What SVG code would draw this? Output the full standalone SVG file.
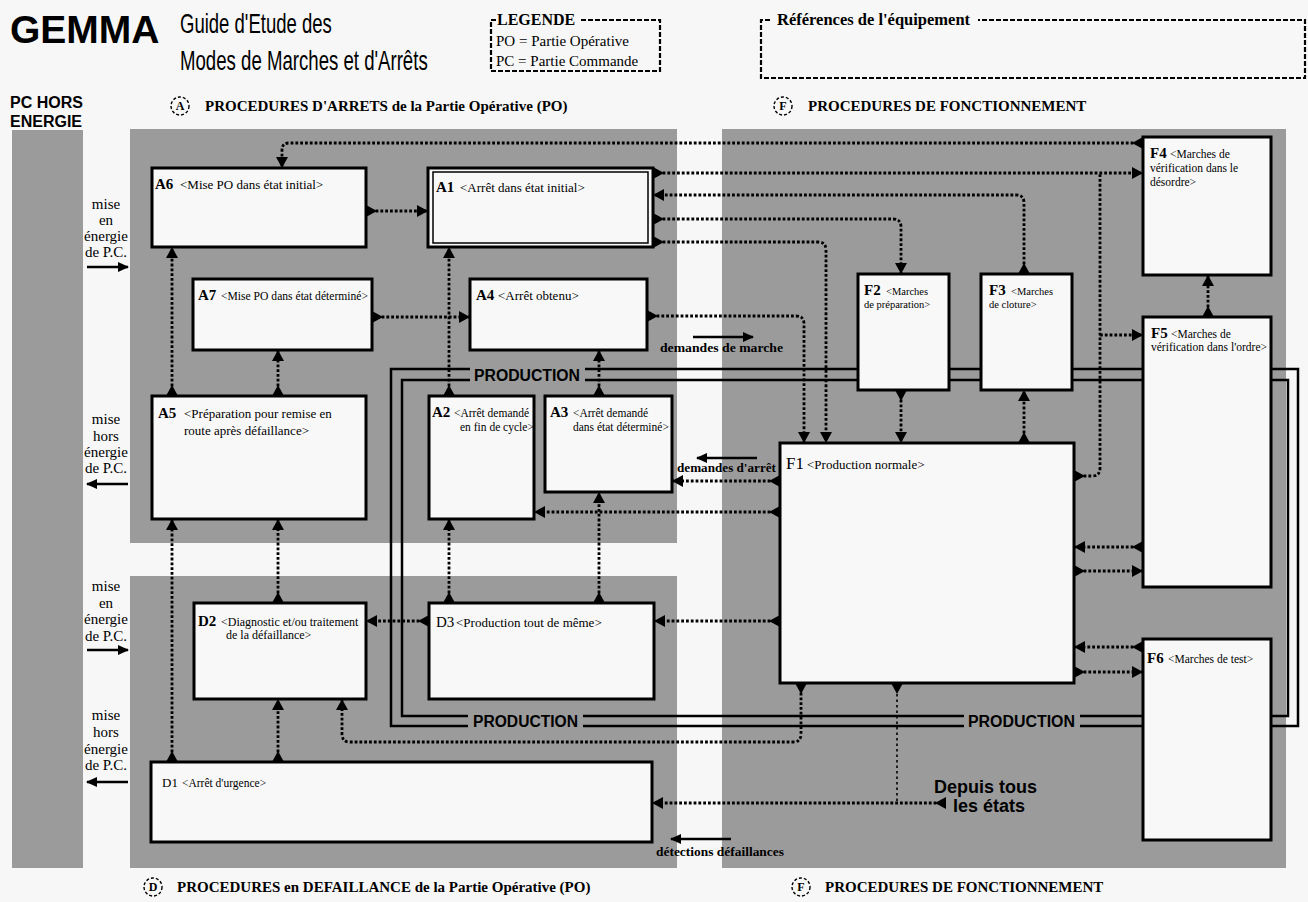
<svg xmlns="http://www.w3.org/2000/svg" width="1308" height="902" viewBox="0 0 1308 902">
<defs>
<style>
.bg{fill:#f7f7f7}
.zone{fill:#9b9b9b}
.box{fill:#f8f8f8;stroke:#000;stroke-width:3}
.inner{fill:none;stroke:#000;stroke-width:1.5}
.prod{fill:none;stroke:#000;stroke-width:2.5}
.dl{fill:none;stroke:#000;stroke-width:2.8;stroke-dasharray:2.8 2}
.s{marker-start:url(#src)}
.e{marker-end:url(#dst)}
.thin{fill:none;stroke:#000;stroke-width:1.6;stroke-dasharray:2.5 3;marker-start:url(#src)}
.solid{fill:none;stroke:#000;stroke-width:2.5;marker-end:url(#head)}
.dash{fill:none;stroke:#000;stroke-width:2.2;stroke-dasharray:5 2}
.ring{fill:none;stroke:#000;stroke-width:1.4;stroke-dasharray:3 2}
text{font-family:"Liberation Serif","Times New Roman",serif;fill:#000}
.sans{font-family:"Liberation Sans",Arial,sans-serif}
.b{font-weight:bold}
.id{font-weight:bold;font-size:15px}
.idr{font-size:15px}
.d13{font-size:13px}
.d12{font-size:12px}
.d11{font-size:11.5px}
.d10{font-size:10.5px}
.side{font-size:15px;text-anchor:middle}
.hdr{font-weight:bold;font-size:15px}
.prodtxt{font-family:"Liberation Sans",Arial,sans-serif;font-weight:bold;font-size:16px}
.ctr{text-anchor:middle;font-weight:bold;font-size:12px}
</style>
<marker id="src" viewBox="0 0 11 12" refX="0" refY="6" markerWidth="11" markerHeight="12" markerUnits="userSpaceOnUse" orient="auto"><path d="M0,0L11,6L0,12Z"/></marker>
<marker id="dst" viewBox="0 0 11 12" refX="11" refY="6" markerWidth="11" markerHeight="12" markerUnits="userSpaceOnUse" orient="auto"><path d="M0,0L11,6L0,12Z"/></marker>
<marker id="head" viewBox="0 0 11 10" refX="10" refY="5" markerWidth="11" markerHeight="10" markerUnits="userSpaceOnUse" orient="auto"><path d="M0,0L11,5L0,10Z"/></marker>
</defs>

<rect class="bg" x="0" y="0" width="1308" height="902"/>

<!-- header -->
<g id="header">
<text class="sans b" x="10" y="43" font-size="39">GEMMA</text>
<text class="sans" transform="translate(180,33) scale(0.69,1)" font-size="27" textLength="220" lengthAdjust="spacingAndGlyphs">Guide d'Etude des</text>
<text class="sans" transform="translate(180,70) scale(0.69,1)" font-size="27" textLength="359" lengthAdjust="spacingAndGlyphs">Modes de Marches et d'Arrêts</text>
<text class="sans b" x="10" y="108" font-size="16">PC HORS</text>
<text class="sans b" x="10" y="127" font-size="16">ENERGIE</text>
</g>

<g id="legend">
<path class="dash" d="M496,20H491V71H660V20H580"/>
<text class="b" x="497" y="25" font-size="16">LEGENDE</text>
<text x="496" y="46" font-size="15">PO = Partie Opérative</text>
<text x="496" y="66" font-size="15">PC = Partie Commande</text>
</g>

<g id="equipment">
<path class="dash" d="M770,20H761V78H1305V20H978"/>
<text class="b" x="777" y="25" font-size="16.5">Références de l'équipement</text>
</g>

<!-- zones -->
<g id="zones">
<rect class="zone" x="12" y="130" width="71" height="738"/>
<rect class="zone" x="130" y="129" width="547" height="414"/>
<rect class="zone" x="722" y="129" width="564" height="739"/>
<rect class="zone" x="130" y="576" width="547" height="292"/>
</g>

<g id="zone-titles">
<circle class="ring" cx="180" cy="106" r="9"/>
<text class="ctr" x="180" y="110">A</text>
<text class="hdr" x="205" y="111">PROCEDURES D'ARRETS de la Partie Opérative (PO)</text>
<circle class="ring" cx="783" cy="106" r="9"/>
<text class="ctr" x="783" y="110">F</text>
<text class="hdr" x="808" y="111">PROCEDURES DE FONCTIONNEMENT</text>
<circle class="ring" cx="153" cy="887" r="9"/>
<text class="ctr" x="153" y="891">D</text>
<text class="hdr" x="177" y="892">PROCEDURES en DEFAILLANCE de la Partie Opérative (PO)</text>
<circle class="ring" cx="801" cy="887" r="9"/>
<text class="ctr" x="801" y="891">F</text>
<text class="hdr" x="825" y="892">PROCEDURES DE FONCTIONNEMENT</text>
</g>

<!-- power on / off of the control part -->
<g id="power">
<text class="side" x="106" y="209">mise</text>
<text class="side" x="106" y="225">en</text>
<text class="side" x="106" y="241">énergie</text>
<text class="side" x="106" y="257">de P.C.</text>
<path class="solid" d="M87,267H128"/>
<text class="side" x="106" y="424">mise</text>
<text class="side" x="106" y="441">hors</text>
<text class="side" x="106" y="457">énergie</text>
<text class="side" x="106" y="473">de P.C.</text>
<path class="solid" d="M128,484H87"/>
<text class="side" x="106" y="591">mise</text>
<text class="side" x="106" y="608">en</text>
<text class="side" x="106" y="624">énergie</text>
<text class="side" x="106" y="641">de P.C.</text>
<path class="solid" d="M87,650H128"/>
<text class="side" x="106" y="720">mise</text>
<text class="side" x="106" y="737">hors</text>
<text class="side" x="106" y="754">énergie</text>
<text class="side" x="106" y="770">de P.C.</text>
<path class="solid" d="M128,782H87"/>
</g>

<!-- production loop -->
<g id="production">
<path class="prod" d="M470,369H391V726H468M583,726H964M1080,726H1298V369H585"/>
<path class="prod" d="M470,380H402V716H468M583,716H964M1080,716H1288V380H585"/>
<text class="prodtxt" x="474" y="381" textLength="106" lengthAdjust="spacingAndGlyphs">PRODUCTION</text>
<text class="prodtxt" x="473" y="727" textLength="105" lengthAdjust="spacingAndGlyphs">PRODUCTION</text>
<text class="prodtxt" x="968" y="727" textLength="107" lengthAdjust="spacingAndGlyphs">PRODUCTION</text>
</g>

<!-- states -->
<g id="A6"><rect class="box" x="152" y="168" width="214" height="79"/>
<text class="id" x="155" y="189">A6</text><text class="d13" x="180" y="189">&lt;Mise PO dans  état initial&gt;</text></g>
<g id="A1"><rect class="box" x="428" y="168" width="225" height="79"/><rect class="inner" x="433" y="172" width="215" height="71"/>
<text class="id" x="436" y="192">A1</text><text class="d13" x="460" y="192">&lt;Arrêt dans état initial&gt;</text></g>
<g id="A7"><rect class="box" x="193" y="279" width="179" height="71"/>
<text class="id" x="198" y="300">A7</text><text class="d11" x="221" y="300" textLength="147" lengthAdjust="spacingAndGlyphs">&lt;Mise PO dans état déterminé&gt;</text></g>
<g id="A4"><rect class="box" x="470" y="279" width="177" height="71"/>
<text class="id" x="476" y="300">A4</text><text class="d13" x="498" y="300">&lt;Arrêt obtenu&gt;</text></g>
<g id="A5"><rect class="box" x="152" y="396" width="214" height="123"/>
<text class="id" x="158" y="418">A5</text><text class="d13" x="184" y="418">&lt;Préparation pour remise en</text><text class="d13" x="184" y="435">route après défaillance&gt;</text></g>
<g id="A2"><rect class="box" x="429" y="396" width="105" height="123"/>
<text class="id" x="432" y="417" font-size="14">A2</text><text class="d11" x="454" y="417">&lt;Arrêt demandé</text><text class="d11" x="460" y="431">en fin de cycle&gt;</text></g>
<g id="A3"><rect class="box" x="545" y="396" width="127" height="96"/>
<text class="id" x="550" y="417" font-size="14">A3</text><text class="d11" x="573" y="417">&lt;Arrêt demandé</text><text class="d11" x="573" y="431">dans état déterminé&gt;</text></g>
<g id="D2"><rect class="box" x="194" y="603" width="172" height="96"/>
<text class="id" x="198" y="626">D2</text><text class="d12" x="221" y="626">&lt;Diagnostic et/ou traitement</text><text class="d12" x="226" y="639">de la défaillance&gt;</text></g>
<g id="D3"><rect class="box" x="429" y="603" width="225" height="96"/>
<text class="idr" x="436" y="627">D3</text><text class="d13" x="456" y="627">&lt;Production tout de même&gt;</text></g>
<g id="D1"><rect class="box" x="151" y="762" width="501" height="80"/>
<text x="162" y="787" font-size="13">D1</text><text class="d11" x="182" y="787">&lt;Arrêt d'urgence&gt;</text></g>
<g id="F1"><rect class="box" x="780" y="443" width="294" height="240"/>
<text x="786" y="469" font-size="17">F1</text><text class="d13" x="807" y="469">&lt;Production normale&gt;</text></g>
<g id="F2"><rect class="box" x="858" y="274" width="91" height="116"/>
<text class="id" x="864" y="295">F2</text><text class="d10" x="886" y="295">&lt;Marches</text><text class="d10" x="864" y="308">de préparation&gt;</text></g>
<g id="F3"><rect class="box" x="981" y="274" width="91" height="116"/>
<text class="id" x="989" y="295">F3</text><text class="d10" x="1011" y="295">&lt;Marches</text><text class="d10" x="989" y="308">de cloture&gt;</text></g>
<g id="F4"><rect class="box" x="1143" y="137" width="128" height="138"/>
<text class="id" x="1150" y="158">F4</text><text class="d11" x="1170" y="158">&lt;Marches de</text><text class="d11" x="1150" y="172">vérification dans le</text><text class="d11" x="1150" y="186">désordre&gt;</text></g>
<g id="F5"><rect class="box" x="1143" y="317" width="128" height="270"/>
<text class="id" x="1151" y="338">F5</text><text class="d11" x="1171" y="338">&lt;Marches de</text><text class="d11" x="1151" y="351" textLength="116" lengthAdjust="spacingAndGlyphs">vérification dans l'ordre&gt;</text></g>
<g id="F6"><rect class="box" x="1143" y="639" width="128" height="201"/>
<text class="id" x="1147" y="663">F6</text><text class="d11" x="1168" y="663">&lt;Marches de test&gt;</text></g>

<!-- transitions -->
<g id="connectors">
<path class="dl s e" d="M1143,143H289Q282,143 282,150V168"/>
<path class="dl s e" d="M653,173H1143"/>
<path class="dl s" d="M1074,476H1092Q1100,476 1100,468V174"/>
<path class="dl e" d="M1100,335H1143"/>
<path class="dl s e" d="M1024,274V203Q1024,195 1016,195H653"/>
<path class="dl s e" d="M653,219H893Q901,219 901,227V274"/>
<path class="dl s e" d="M653,242H818Q826,242 826,250V443"/>
<path class="dl s e" d="M647,316H796Q804,316 804,324V443"/>
<path class="dl s e" d="M901,390V443"/>
<path class="dl s e" d="M1024,443V390"/>
<path class="dl s e" d="M1208,317V275"/>
<path class="dl s e" d="M1143,547H1074"/>
<path class="dl s e" d="M1074,571H1143"/>
<path class="dl s e" d="M1143,647H1074"/>
<path class="dl s e" d="M1074,672H1143"/>
<path class="dl s e" d="M366,211H428"/>
<path class="dl s e" d="M372,317H470"/>
<path class="dl s e" d="M172,396V247"/>
<path class="dl s e" d="M278,396V350"/>
<path class="dl s e" d="M449,396V247"/>
<path class="dl s e" d="M599,396V350"/>
<path class="dl s e" d="M780,481H672"/>
<path class="dl s e" d="M780,512H534"/>
<path class="dl s e" d="M599,603V492"/>
<path class="dl s e" d="M449,603V519"/>
<path class="dl s e" d="M278,603V519"/>
<path class="dl s e" d="M172,762V519"/>
<path class="dl s e" d="M278,762V699"/>
<path class="dl s e" d="M429,621H366"/>
<path class="dl s e" d="M780,621H654"/>
<path class="dl s e" d="M801,683V734Q801,742 793,742H350Q342,742 342,734V699"/>
<path class="thin" d="M897,683V803"/>
<path class="dl s e" d="M946,803H652"/>
</g>

<!-- flow annotations -->
<g id="annotations">
<path class="solid" d="M693,337H753"/>
<text class="b" x="660" y="352" font-size="13.5" textLength="123" lengthAdjust="spacingAndGlyphs">demandes de marche</text>
<path class="solid" d="M757,458H697"/>
<text class="b" x="677" y="472" font-size="13.5" textLength="99" lengthAdjust="spacingAndGlyphs">demandes d'arrêt</text>
<path class="solid" d="M731,839H671"/>
<text class="b" x="656" y="856" font-size="12.5" textLength="128" lengthAdjust="spacingAndGlyphs">détections défaillances</text>
<text class="sans b" x="934" y="793" font-size="18">Depuis tous</text>
<text class="sans b" x="953" y="812" font-size="18">les états</text>
</g>
</svg>
